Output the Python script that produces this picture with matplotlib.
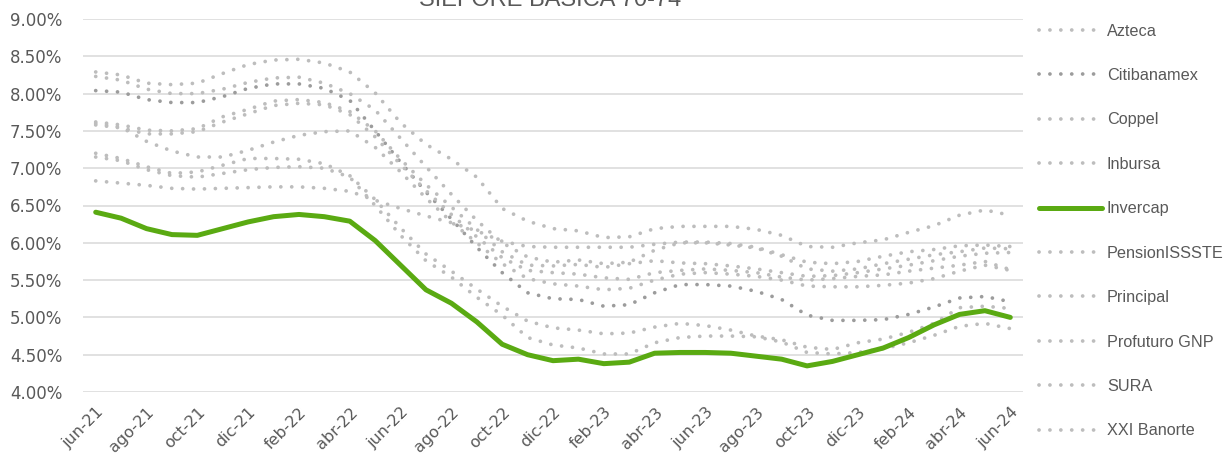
import matplotlib
matplotlib.use("Agg")
import matplotlib.pyplot as plt
from matplotlib.ticker import FuncFormatter, MultipleLocator

months = ["jun-21", "jul-21", "ago-21", "sep-21", "oct-21", "nov-21", "dic-21",
          "ene-22", "feb-22", "mar-22", "abr-22", "may-22", "jun-22", "jul-22",
          "ago-22", "sep-22", "oct-22", "nov-22", "dic-22", "ene-23", "feb-23",
          "mar-23", "abr-23", "may-23", "jun-23", "jul-23", "ago-23", "sep-23",
          "oct-23", "nov-23", "dic-23", "ene-24", "feb-24", "mar-24", "abr-24",
          "may-24", "jun-24"]

azteca = [8.29, 8.25, 8.14, 8.12, 8.14, 8.27, 8.39, 8.45, 8.46, 8.41, 8.29, 8.01, 7.61,
          7.32, 7.12, 6.88, 6.46, 6.29, 6.19, 6.16, 6.07, 6.08, 6.19, 6.22, 6.22, 6.22,
          6.18, 6.10, 5.95, 5.94, 6.00, 6.04, 6.14, 6.23, 6.37, 6.44, 6.37]
citibanamex = [8.04, 8.02, 7.92, 7.88, 7.88, 7.96, 8.07, 8.13, 8.13, 8.07, 7.91, 7.50, 7.08,
               6.68, 6.32, 5.94, 5.60, 5.33, 5.25, 5.24, 5.15, 5.17, 5.33, 5.44, 5.44, 5.42,
               5.35, 5.24, 5.03, 4.96, 4.96, 4.97, 5.04, 5.14, 5.26, 5.28, 5.21]
coppel = [7.15, 7.10, 6.98, 6.90, 6.88, 6.93, 6.98, 7.01, 7.02, 7.00, 6.88, 6.50, 6.10,
          5.76, 5.54, 5.27, 5.03, 4.73, 4.63, 4.59, 4.51, 4.51, 4.66, 4.73, 4.75, 4.75,
          4.74, 4.67, 4.53, 4.51, 4.53, 4.58, 4.66, 4.76, 4.88, 4.92, 4.85]
inbursa = [6.83, 6.80, 6.77, 6.73, 6.72, 6.73, 6.74, 6.75, 6.75, 6.73, 6.69, 6.57, 6.46,
           6.36, 6.27, 6.16, 6.02, 5.95, 5.94, 5.94, 5.94, 5.94, 5.98, 6.01, 6.01, 5.99,
           5.94, 5.84, 5.74, 5.72, 5.75, 5.82, 5.88, 5.91, 5.96, 5.97, 5.95]
invercap = [6.41, 6.33, 6.19, 6.11, 6.10, 6.19, 6.28, 6.35, 6.38, 6.35, 6.29, 6.03, 5.70,
            5.37, 5.19, 4.94, 4.64, 4.50, 4.42, 4.44, 4.38, 4.40, 4.52, 4.53, 4.53, 4.52,
            4.48, 4.44, 4.35, 4.41, 4.50, 4.59, 4.73, 4.90, 5.04, 5.09, 5.00]
pensionissste = [7.62, 7.58, 7.51, 7.50, 7.53, 7.69, 7.79, 7.90, 7.92, 7.88, 7.76, 7.50, 7.12,
                 6.78, 6.48, 6.18, 5.88, 5.70, 5.69, 5.71, 5.67, 5.72, 5.76, 5.73, 5.72, 5.69,
                 5.65, 5.60, 5.55, 5.56, 5.60, 5.65, 5.70, 5.76, 5.82, 5.86, 5.87]
principal = [7.20, 7.13, 7.02, 6.93, 6.95, 7.04, 7.13, 7.13, 7.12, 7.06, 6.90, 6.58, 6.20,
             5.85, 5.62, 5.38, 5.15, 4.95, 4.86, 4.83, 4.78, 4.79, 4.87, 4.92, 4.89, 4.83,
             4.75, 4.70, 4.60, 4.57, 4.66, 4.71, 4.80, 4.92, 5.13, 5.15, 5.12]
profuturo = [8.23, 8.18, 8.06, 8.00, 8.00, 8.06, 8.15, 8.21, 8.22, 8.14, 8.00, 7.78, 7.40,
             7.02, 6.65, 6.30, 6.00, 5.81, 5.74, 5.77, 5.72, 5.74, 5.90, 6.00, 6.00, 5.97,
             5.93, 5.82, 5.65, 5.62, 5.65, 5.72, 5.78, 5.84, 5.88, 5.93, 5.92]
sura = [7.58, 7.54, 7.46, 7.46, 7.49, 7.62, 7.73, 7.84, 7.87, 7.85, 7.72, 7.42, 7.05,
        6.70, 6.38, 6.08, 5.80, 5.63, 5.60, 5.58, 5.53, 5.51, 5.60, 5.63, 5.65, 5.63,
        5.60, 5.54, 5.50, 5.52, 5.55, 5.57, 5.62, 5.66, 5.70, 5.75, 5.64]
xxi_banorte = [7.60, 7.55, 7.36, 7.23, 7.15, 7.15, 7.24, 7.35, 7.44, 7.49, 7.50, 7.28, 6.95,
               6.60, 6.28, 6.00, 5.72, 5.52, 5.45, 5.42, 5.37, 5.39, 5.50, 5.58, 5.60, 5.58,
               5.55, 5.50, 5.42, 5.41, 5.41, 5.43, 5.46, 5.52, 5.62, 5.70, 5.63]

names = ["Azteca", "Citibanamex", "Coppel", "Inbursa", "Invercap", "PensionISSSTE",
         "Principal", "Profuturo GNP", "SURA", "XXI Banorte"]
series = [azteca, citibanamex, coppel, inbursa, invercap, pensionissste,
          principal, profuturo, sura, xxi_banorte]

light = "#BDBDBD"
dark = "#9C9C9C"
green = "#5AAA12"
text_col = "#595959"

fig = plt.figure(figsize=(12.32, 4.62), dpi=100)
ax = fig.add_axes([83 / 1232, 1 - 392 / 462, 940 / 1232, 373 / 462])

x = list(range(len(months)))
for name, vals in zip(names, series):
    if name == "Invercap":
        ax.plot(x, vals, color=green, lw=3.6, solid_capstyle="round",
                solid_joinstyle="round", label=name, zorder=5)
    else:
        col = dark if name == "Citibanamex" else light
        ax.plot(x, vals, color=col, lw=2.7, linestyle=(0, (0.01, 2.9)),
                dash_capstyle="round", label=name, zorder=3)

ax.set_xlim(-0.5, len(months) - 0.5)
ax.set_ylim(4.0, 9.0)
ax.yaxis.set_major_locator(MultipleLocator(0.5))
ax.yaxis.set_major_formatter(FuncFormatter(lambda v, p: f"{v:.2f}%"))
ax.grid(axis="y", color="#D9D9D9", lw=1.1)
ax.set_axisbelow(True)
for s in ax.spines.values():
    s.set_visible(False)

ax.set_xticks(x[::2])
ax.set_xticklabels(months[::2], rotation=45, ha="right", va="top",
                   rotation_mode="anchor", fontsize=11.5, color=text_col)
ax.tick_params(axis="x", length=0, pad=9)
ax.tick_params(axis="y", length=0, pad=15, labelsize=12, labelcolor=text_col)

# title sits partly above the figure edge, as in the source image
fig.text(550 / 1232, 1 - 6 / 462, "SIEFORE BÁSICA 70-74", ha="center",
         va="baseline", fontsize=17, color=text_col, family="Liberation Sans")

leg = ax.legend(loc="upper left", bbox_to_anchor=(1024 / 1232, 1 - 9 / 462),
                bbox_transform=fig.transFigure, frameon=False,
                prop={"family": "Liberation Sans", "size": 11.7},
                labelspacing=1.81, handlelength=3.9, handletextpad=0.3)
for t in leg.get_texts():
    t.set_color(text_col)

fig.savefig("out.png", dpi=100)
